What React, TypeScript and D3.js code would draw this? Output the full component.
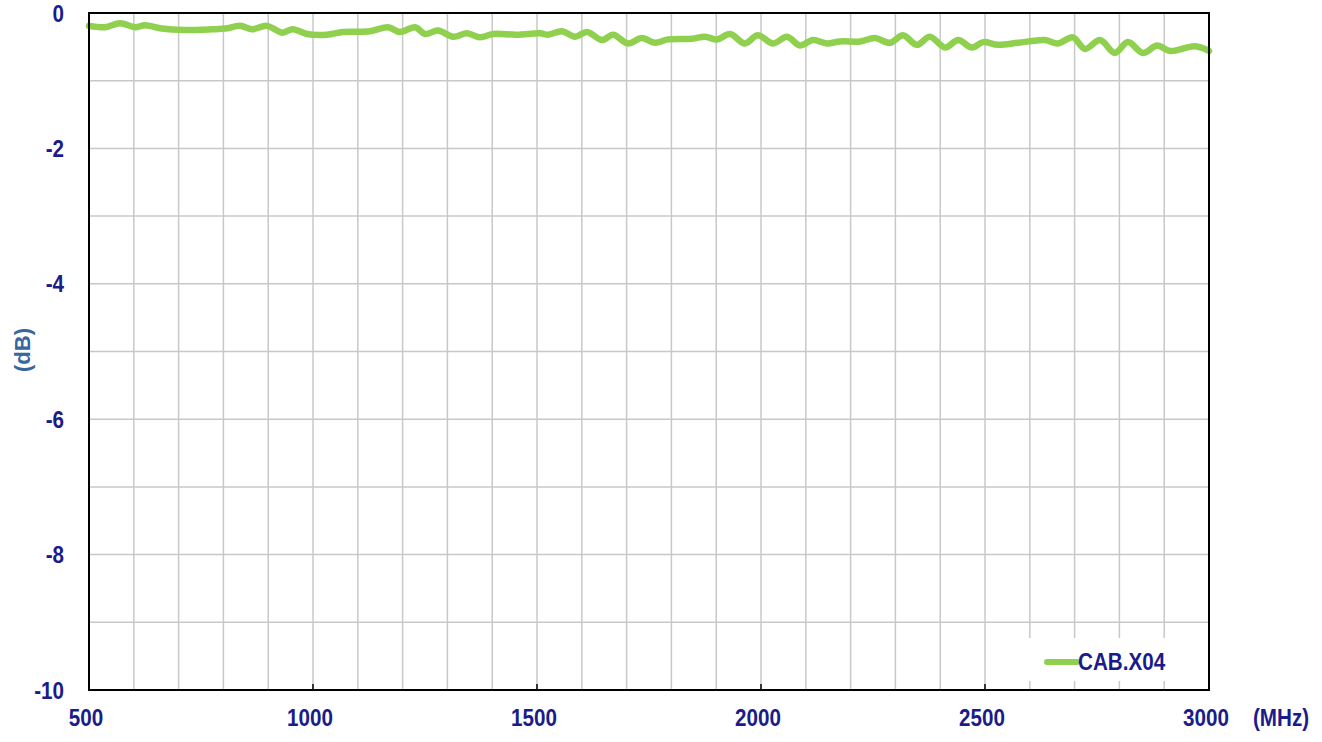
import React, { useEffect, useRef } from "react";
import * as d3 from "d3";

// frequency (MHz) and insertion loss (dB)
const freqs = [
  500, 536, 569, 603, 625, 663, 714, 775, 804, 837, 864, 897, 931, 955, 987,
  1031, 1067, 1127, 1167, 1194, 1228, 1250, 1279, 1313, 1344, 1373, 1402, 1455, 1507,
  1525, 1556, 1585, 1612, 1645, 1670, 1703, 1734, 1763, 1792, 1846, 1875, 1902, 1931, 1964, 1993,
  2027, 2058, 2087, 2116, 2147, 2176, 2221, 2254, 2288, 2317, 2348, 2377, 2411, 2440, 2471, 2496,
  2529, 2574, 2634, 2663, 2696, 2723, 2757, 2790, 2819, 2853, 2884, 2913, 2969, 3000,
];
const loss = [
  -0.19, -0.21, -0.15, -0.21, -0.18, -0.23, -0.25, -0.24, -0.23, -0.19, -0.24, -0.19, -0.29, -0.24, -0.31,
  -0.32, -0.28, -0.27, -0.21, -0.28, -0.21, -0.31, -0.26, -0.35, -0.3, -0.36, -0.31, -0.32, -0.3,
  -0.32, -0.27, -0.35, -0.28, -0.4, -0.32, -0.45, -0.37, -0.44, -0.39, -0.38, -0.35, -0.39, -0.31, -0.45, -0.33,
  -0.45, -0.35, -0.48, -0.4, -0.45, -0.42, -0.42, -0.37, -0.44, -0.33, -0.47, -0.35, -0.51, -0.4, -0.51, -0.43,
  -0.47, -0.44, -0.4, -0.45, -0.36, -0.53, -0.4, -0.59, -0.43, -0.59, -0.48, -0.56, -0.49, -0.56,
];
const xLabels = [500, 1000, 1500, 2000, 2500, 3000];
const yLabels = [0, -2, -4, -6, -8, -10];
const seriesName = "CAB.X04";

const W = 1322;
const H = 742;
const m = { left: 89, top: 13, right: 1209, bottom: 690 };
const labelColor = "#1b1b8a";
const font = "'Liberation Sans', Arial, sans-serif";
const squeeze = 0.86; // the original labels are a condensed face

export default function App() {
  const ref = useRef<SVGSVGElement | null>(null);

  useEffect(() => {
    const svg = d3.select(ref.current);
    svg.selectAll("*").remove();

    const x = d3.scaleLinear().domain([500, 3000]).range([m.left, m.right]);
    const y = d3.scaleLinear().domain([-10, 0]).range([m.bottom, m.top]);

    // condensed bold label at (tx, ty)
    const label = (tx: number, ty: number, txt: string, anchor: string, size = 24, color = labelColor) =>
      svg
        .append("g")
        .attr("transform", `translate(${tx},${ty}) scale(${squeeze},1)`)
        .append("text")
        .attr("text-anchor", anchor)
        .attr("fill", color)
        .style("font", `bold ${size}px ${font}`)
        .text(txt);

    svg.append("rect").attr("width", W).attr("height", H).attr("fill", "#fff");

    // grid
    const g = svg.append("g");
    g.selectAll(".vx")
      .data(d3.range(600, 3000, 100))
      .enter()
      .append("line")
      .attr("x1", (d) => x(d))
      .attr("x2", (d) => x(d))
      .attr("y1", m.top)
      .attr("y2", m.bottom)
      .attr("stroke", "#c8c8c8")
      .attr("stroke-width", 1.5);
    g.selectAll(".hy")
      .data(d3.range(-9, 0, 1))
      .enter()
      .append("line")
      .attr("x1", m.left)
      .attr("x2", m.right)
      .attr("y1", (d) => y(d))
      .attr("y2", (d) => y(d))
      .attr("stroke", "#c8c8c8")
      .attr("stroke-width", 1.5);

    // ticks on bottom axis
    g.selectAll(".tk")
      .data(xLabels)
      .enter()
      .append("line")
      .attr("x1", (d) => x(d))
      .attr("x2", (d) => x(d))
      .attr("y1", m.bottom)
      .attr("y2", m.bottom - 6)
      .attr("stroke", "#000")
      .attr("stroke-width", 1.5);

    // data line
    const line = d3
      .line<number>()
      .x((d, i) => x(freqs[i]))
      .y((d) => y(d))
      .curve(d3.curveCatmullRom.alpha(0.5));
    svg
      .append("path")
      .datum(loss)
      .attr("d", line)
      .attr("fill", "none")
      .attr("stroke", "#8fd14f")
      .attr("stroke-width", 6.5)
      .attr("stroke-linejoin", "round")
      .attr("stroke-linecap", "round");

    // legend
    svg
      .append("rect")
      .attr("x", 1022)
      .attr("y", 638)
      .attr("width", 155)
      .attr("height", 43)
      .attr("fill", "#fff");
    svg
      .append("line")
      .attr("x1", 1047)
      .attr("x2", 1077)
      .attr("y1", 662)
      .attr("y2", 662)
      .attr("stroke", "#8fd14f")
      .attr("stroke-width", 6)
      .attr("stroke-linecap", "round");
    label(1078, 670, seriesName, "start");

    // frame
    svg
      .append("rect")
      .attr("x", m.left)
      .attr("y", m.top)
      .attr("width", m.right - m.left)
      .attr("height", m.bottom - m.top)
      .attr("fill", "none")
      .attr("stroke", "#000")
      .attr("stroke-width", 2);

    yLabels.forEach((d) => label(64, y(d) + 8.5, String(d), "end"));
    xLabels.forEach((d) => label(x(d) - 3, 726, String(d), "middle"));
    label(1253, 726, "(MHz)", "start");

    svg
      .append("g")
      .attr("transform", "translate(30,350) rotate(-90)")
      .append("text")
      .attr("text-anchor", "middle")
      .attr("fill", "#3567a0")
      .style("font", `bold 22px ${font}`)
      .text("(dB)");
  }, []);

  return (
    <div style={{ position: "fixed", left: 0, top: 0 }}>
      <svg ref={ref} width={W} height={H} style={{ display: "block" }} />
    </div>
  );
}
